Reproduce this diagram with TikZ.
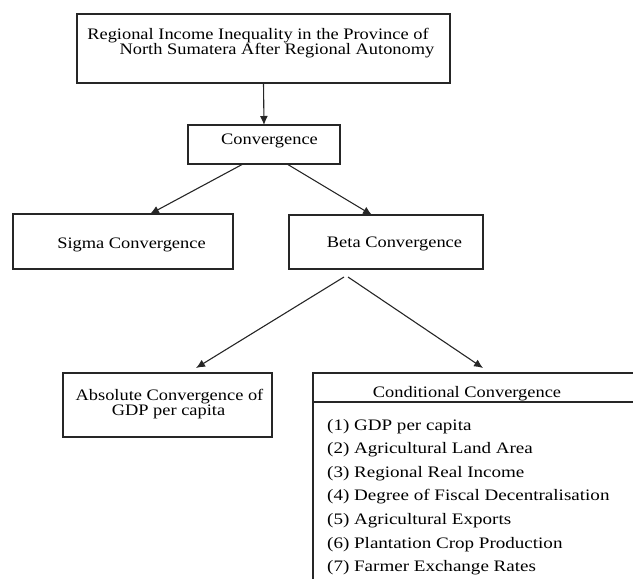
\documentclass[tikz,border=0pt]{standalone}
\usepackage{fontspec}
\setmainfont{Liberation Serif}[FakeStretch=1.15]
\newfontfamily\itemfont{Liberation Serif}[FakeStretch=1.19]
\usetikzlibrary{arrows.meta}
\begin{document}
\begin{tikzpicture}[x=1pt,y=-1pt,
  box/.style={draw=black!85,line width=1.1pt,rectangle,inner sep=0pt,outer sep=0pt},
  txt/.style={inner sep=0pt,anchor=base,font=\fontsize{16}{18}\selectfont},
  itm/.style={inner sep=0pt,anchor=base west,font=\itemfont\fontsize{16}{18}\selectfont},
  arr/.style={draw=black!85,line width=1.1pt,-{Latex[length=9pt,width=8pt]}}]
\useasboundingbox (0,0) rectangle (633,579);
% boxes
\node[box,minimum width=373,minimum height=69] (top) at (263.5,48.5) {};
\node[box,minimum width=152,minimum height=39] (conv) at (264,144.5) {};
\node[box,minimum width=220,minimum height=55] (sigma) at (123,241.5) {};
\node[box,minimum width=194,minimum height=54] (beta) at (386,242) {};
\node[box,minimum width=209,minimum height=64] (abs) at (167.5,405) {};
\node[box,minimum width=347,minimum height=227] (cond) at (486.5,486.5) {};
\draw[draw=black!85,line width=1.1pt] (cond.west |- 0,402) -- (cond.east |- 0,402);
% texts
\node[txt] (t1) at (258,39) {Regional Income Inequality in the Province of};
\node[txt] (t2) at (277,54) {North Sumatera After Regional Autonomy};
\node[txt] (tconv) at (269.5,144) {Convergence};
\node[txt] (tsigma) at (131.5,248) {Sigma Convergence};
\node[txt] (tbeta) at (394.5,247) {Beta Convergence};
\node[txt] (tabs1) at (169.5,400) {Absolute Convergence of};
\node[txt] (tabs2) at (168.5,415) {GDP per capita};
\node[txt] (tcond) at (467,397) {Conditional Convergence};
\node[itm] (i1) at (327,430) {(1) GDP per capita};
\node[itm] (i2) at (327,453.6) {(2) Agricultural Land Area};
\node[itm] (i3) at (327,477.2) {(3) Regional Real Income};
\node[itm] (i4) at (327,500.8) {(4) Degree of Fiscal Decentralisation};
\node[itm] (i5) at (327,524.4) {(5) Agricultural Exports};
\node[itm] (i6) at (327,548) {(6) Plantation Crop Production};
\node[itm] (i7) at (327,571.6) {(7) Farmer Exchange Rates};
% connectors
\draw[arr] (top.south) -- (conv.north);
\draw[arr] ([xshift=-21pt]conv.south) -- ([xshift=27pt]sigma.north);
\draw[arr] ([xshift=23pt]conv.south) -- ([xshift=-14pt]beta.north);
\coordinate (apexL) at ([xshift=-42pt,yshift=-8pt]beta.south);
\coordinate (apexR) at ([xshift=-38pt,yshift=-8pt]beta.south);
\coordinate (tipL) at ([xshift=28.5pt,yshift=5pt]abs.north);
\coordinate (tipR) at ([xshift=-3.5pt,yshift=5pt]cond.north);
\draw[arr] (apexL) -- (tipL);
\draw[arr] (apexR) -- (tipR);
\end{tikzpicture}
\end{document}
